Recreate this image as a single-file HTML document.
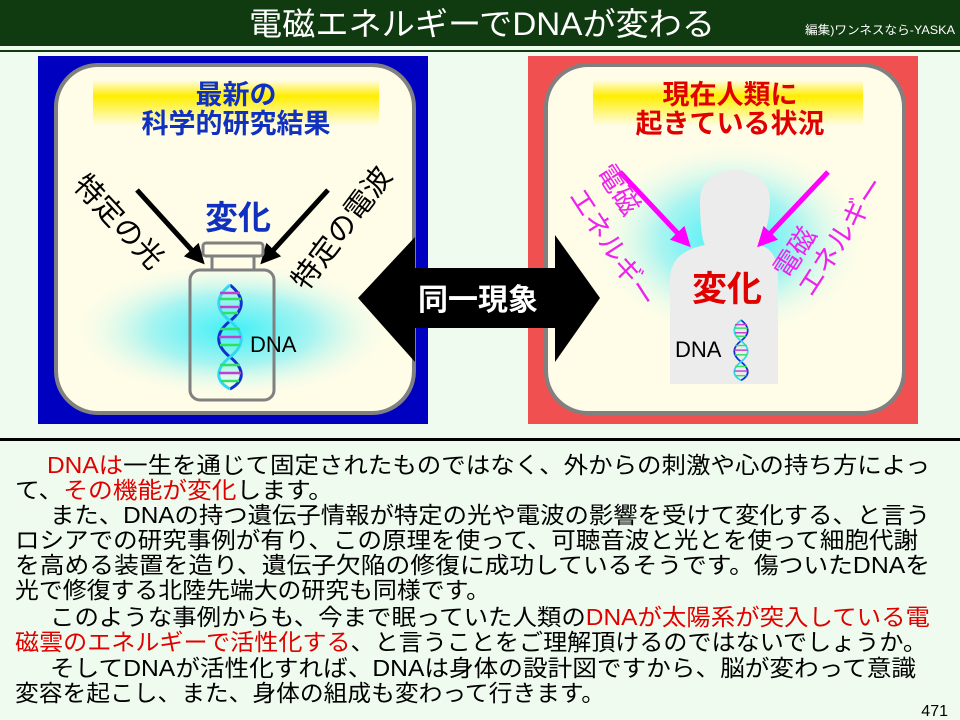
<!DOCTYPE html>
<html><head><meta charset="utf-8"><style>
html,body{margin:0;padding:0;background:#eefbee;}
svg{display:block;font-family:"Liberation Sans","Noto Sans CJK JP",sans-serif;}
</style></head><body>
<svg width="960" height="720" viewBox="0 0 960 720" xmlns="http://www.w3.org/2000/svg">
<defs>
<linearGradient id="yb" x1="0" y1="0" x2="0" y2="1">
<stop offset="0" stop-color="#fffde8"/><stop offset="0.35" stop-color="#ffee00"/><stop offset="1" stop-color="#fffde8"/></linearGradient>
<radialGradient id="glow" cx="0.5" cy="0.5" r="0.5">
<stop offset="0" stop-color="#40f0f8"/><stop offset="0.5" stop-color="#a8f4f0"/><stop offset="1" stop-color="#fffde8" stop-opacity="0"/></radialGradient>
<marker id="ab" markerWidth="4" markerHeight="4" refX="2" refY="2" orient="auto" markerUnits="strokeWidth"><path d="M0,0 L4,2 L0,4 Z" fill="#000"/></marker>
<marker id="am" markerWidth="4" markerHeight="4" refX="2" refY="2" orient="auto" markerUnits="strokeWidth"><path d="M0,0 L4,2 L0,4 Z" fill="#ff00ff"/></marker>
<g id="helix">
<path d="M0,0 C15,12 15,24 0,36 C-15,48 -15,60 0,72 C15,84 15,96 0,104" fill="none" stroke="#1030d0" stroke-width="3"/>
<path d="M0,0 C-15,12 -15,24 0,36 C15,48 15,60 0,72 C-15,84 -15,96 0,104" fill="none" stroke="#30d8f0" stroke-width="3"/>
<g stroke-width="2.5">
<line x1="-10" y1="8" x2="10" y2="8" stroke="#c040d0"/><line x1="-11" y1="14" x2="11" y2="14" stroke="#30e060"/><line x1="-10" y1="22" x2="10" y2="22" stroke="#c040d0"/><line x1="-8" y1="28" x2="8" y2="28" stroke="#30e060"/>
<line x1="-10" y1="44" x2="10" y2="44" stroke="#30e060"/><line x1="-11" y1="52" x2="11" y2="52" stroke="#c040d0"/><line x1="-10" y1="60" x2="10" y2="60" stroke="#30e060"/>
<line x1="-10" y1="80" x2="10" y2="80" stroke="#30e060"/><line x1="-11" y1="88" x2="11" y2="88" stroke="#c040d0"/><line x1="-9" y1="96" x2="9" y2="96" stroke="#30e060"/>
</g></g>
</defs>
<!-- header -->
<rect x="0" y="0" width="960" height="46" fill="#103a10"/>
<rect x="0" y="50" width="960" height="2" fill="#103a10"/>
<text x="482" y="35" fill="#fff" font-size="32" text-anchor="middle" textLength="466" lengthAdjust="spacingAndGlyphs">電磁エネルギーでDNAが変わる</text>
<text x="880" y="34" fill="#fff" font-size="12" text-anchor="middle" textLength="150" lengthAdjust="spacingAndGlyphs">編集)ワンネスなら-YASKA</text>

<!-- left panel -->
<rect x="38" y="56" width="390" height="368" fill="#0000c0"/>
<rect x="56" y="65" width="358" height="348" rx="42" fill="#fffde8" stroke="#808080" stroke-width="4"/>
<ellipse cx="232" cy="330" rx="165" ry="70" fill="url(#glow)"/>
<rect x="93" y="80" width="286" height="46" fill="url(#yb)"/>
<text x="236" y="104" fill="#1030c0" font-size="27" font-weight="bold" text-anchor="middle">最新の</text>
<text x="236" y="133" fill="#1030c0" font-size="27" font-weight="bold" text-anchor="middle">科学的研究結果</text>
<text x="238" y="229" fill="#1030c0" font-size="33" font-weight="bold" text-anchor="middle">変化</text>
<line x1="137" y1="190" x2="198" y2="257" stroke="#000" stroke-width="5" marker-end="url(#ab)"/>
<line x1="328" y1="190" x2="267" y2="257" stroke="#000" stroke-width="5" marker-end="url(#ab)"/>
<text transform="translate(72,186) rotate(47)" font-size="29" fill="#000">特定の光</text>
<text transform="translate(306,292) rotate(-53)" font-size="29" fill="#000">特定の電波</text>
<rect x="203" y="243" width="60" height="13" rx="3" fill="#fffde8" stroke="#808080" stroke-width="3"/>
<rect x="212" y="256" width="42" height="14" fill="#fffde8" stroke="#808080" stroke-width="3"/>
<rect x="190" y="270" width="84" height="130" rx="10" fill="none" stroke="#808080" stroke-width="3"/>
<use href="#helix" transform="translate(230,285)"/>
<text x="250" y="352" font-size="22" fill="#000">DNA</text>

<!-- right panel -->
<rect x="528" y="56" width="390" height="368" fill="#f05050"/>
<rect x="546" y="65" width="358" height="348" rx="42" fill="#fffde8" stroke="#808080" stroke-width="4"/>
<ellipse cx="730" cy="240" rx="140" ry="100" fill="url(#glow)"/>
<rect x="593" y="80" width="270" height="46" fill="url(#yb)"/>
<text x="730" y="104" fill="#e00000" font-size="27" font-weight="bold" text-anchor="middle">現在人類に</text>
<text x="730" y="133" fill="#e00000" font-size="27" font-weight="bold" text-anchor="middle">起きている状況</text>
<!-- person -->
<path d="M700,200 C700,160 770,160 770,200 C770,225 762,240 760,245 C775,250 778,262 778,280 L778,384 L670,384 L670,280 C670,262 680,250 705,245 C702,240 700,225 700,200 Z" fill="#ececec"/>
<line x1="620" y1="172" x2="684" y2="240" stroke="#ff00ff" stroke-width="5" marker-end="url(#am)"/>
<line x1="828" y1="172" x2="764" y2="240" stroke="#ff00ff" stroke-width="5" marker-end="url(#am)"/>
<text transform="translate(596,172) rotate(57)" font-size="27" fill="#ee22ee">電磁</text>
<text transform="translate(568,196) rotate(57)" font-size="27" fill="#ee22ee">エネルギー</text>
<text transform="translate(788,280) rotate(-57)" font-size="27" fill="#ee22ee">電磁</text>
<text transform="translate(812,298) rotate(-57)" font-size="27" fill="#ee22ee">エネルギー</text>
<text x="727" y="301" fill="#e00000" font-size="35" font-weight="bold" text-anchor="middle">変化</text>
<text x="675" y="357" font-size="22" fill="#000">DNA</text>
<use href="#helix" transform="translate(741,320) scale(0.6,0.58)"/>

<!-- double arrow -->
<polygon points="358,298 415,237 415,268 555,268 555,235 600,298 555,362 555,328 415,328 415,362" fill="#000"/>
<text x="478" y="310" fill="#fff" font-size="30" font-weight="bold" text-anchor="middle">同一現象</text>

<!-- text area -->
<rect x="0" y="438" width="960" height="3" fill="#000"/>
<g font-size="23" fill="#000">
<text x="47" y="473" textLength="883" lengthAdjust="spacingAndGlyphs"><tspan fill="#e00000">DNAは</tspan>一生を通じて固定されたものではなく、外からの刺激や心の持ち方によっ</text>
<text x="15" y="498" textLength="318" lengthAdjust="spacingAndGlyphs">て、<tspan fill="#e00000">その機能が変化</tspan>します。</text>
<text x="50" y="523" textLength="880" lengthAdjust="spacingAndGlyphs">また、DNAの持つ遺伝子情報が特定の光や電波の影響を受けて変化する、と言う</text>
<text x="15" y="548" textLength="903" lengthAdjust="spacingAndGlyphs">ロシアでの研究事例が有り、この原理を使って、可聴音波と光とを使って細胞代謝</text>
<text x="15" y="573" textLength="915" lengthAdjust="spacingAndGlyphs">を高める装置を造り、遺伝子欠陥の修復に成功しているそうです。傷ついたDNAを</text>
<text x="15" y="598" textLength="475" lengthAdjust="spacingAndGlyphs">光で修復する北陸先端大の研究も同様です。</text>
<text x="50" y="625" textLength="880" lengthAdjust="spacingAndGlyphs">このような事例からも、今まで眠っていた人類の<tspan fill="#e00000">DNAが太陽系が突入している電</tspan></text>
<text x="15" y="650" textLength="912" lengthAdjust="spacingAndGlyphs"><tspan fill="#e00000">磁雲のエネルギーで活性化する</tspan>、と言うことをご理解頂けるのではないでしょうか。</text>
<text x="50" y="676" textLength="866" lengthAdjust="spacingAndGlyphs">そしてDNAが活性化すれば、DNAは身体の設計図ですから、脳が変わって意識</text>
<text x="15" y="701" textLength="590" lengthAdjust="spacingAndGlyphs">変容を起こし、また、身体の組成も変わって行きます。</text>
</g>
<text x="948" y="716" font-size="16" fill="#000" text-anchor="end">471</text>
</svg>
</body></html>
